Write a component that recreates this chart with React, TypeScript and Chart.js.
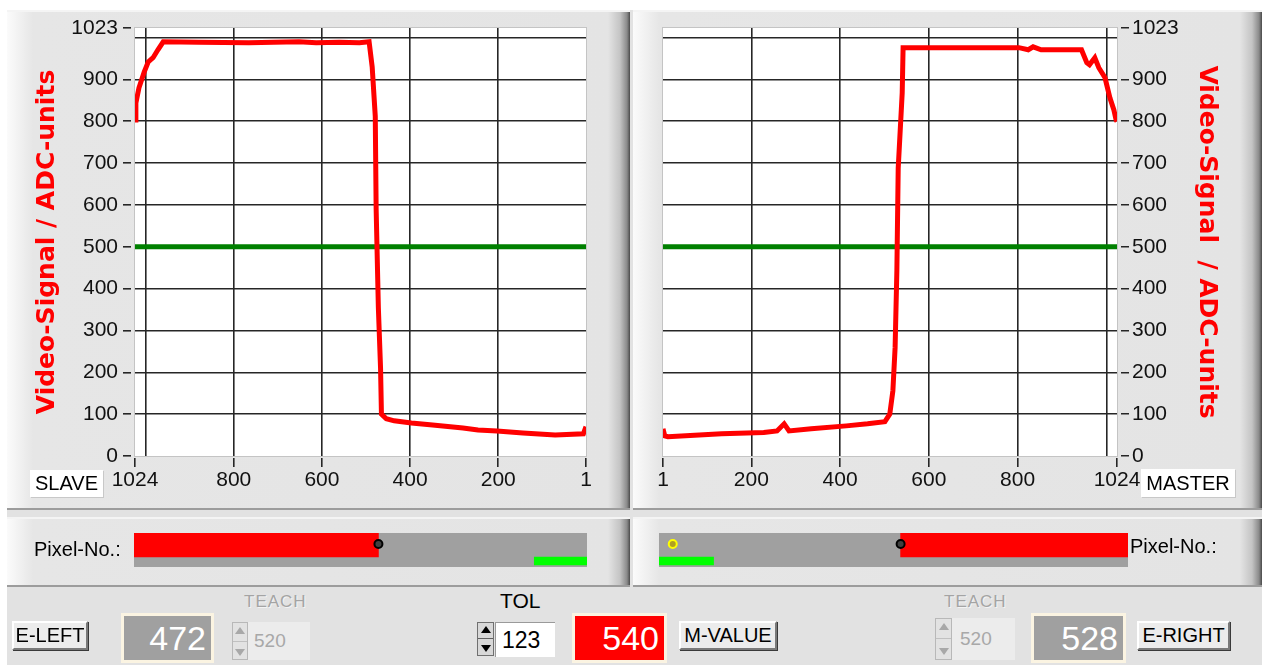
import React, { useEffect, useRef } from 'react';
import { Chart, registerables } from 'chart.js';

Chart.register(...registerables);

// ---------------- data ----------------
const slavePixels = [1024, 1022, 1015, 1003, 994, 983, 972, 960, 880, 766, 652, 613, 561, 515, 493, 486, 479, 477, 472, 467, 465, 454, 436, 397, 349, 280, 246, 203, 144, 71, 7, 1];
const slaveValues = [803, 844, 880, 918, 942, 952, 971, 990, 989, 988, 990, 988, 989, 988, 990, 930, 812, 590, 355, 209, 100, 89, 84, 79, 74, 67, 62, 60, 55, 50, 53, 70];

const masterPixels = [1, 5, 12, 133, 228, 258, 274, 285, 335, 414, 462, 501, 512, 519, 524, 528, 531, 540, 542, 803, 824, 835, 853, 944, 956, 962, 974, 983, 997, 1008, 1017, 1022, 1024];
const masterValues = [65, 48, 46, 53, 56, 60, 77, 60, 65, 72, 77, 82, 100, 156, 259, 444, 688, 868, 976, 976, 971, 978, 971, 971, 940, 935, 952, 928, 904, 856, 827, 803, 800];

const thresholdValue = 500;
const pixelMin = 1;
const pixelMax = 1024;
const adcMax = 1023;

const yTickValues = [0, 100, 200, 300, 400, 500, 600, 700, 800, 900, 1000, 1023];
const yLabelValues = [0, 100, 200, 300, 400, 500, 600, 700, 800, 900, 1023];
const yGridValues = [100, 200, 300, 400, 500, 600, 700, 800, 900, 1000];
const xTickValues = [1, 200, 400, 600, 800, 1000, 1024];
const xLabelValues = [1, 200, 400, 600, 800, 1024];
const xGridValues = [200, 400, 600, 800, 1000];

const slaveEdgeBar = [472, 1024];
const masterEdgeBar = [528, 1024];
const teachWindow = [1, 120];
const slaveEdge = 472;
const masterEdge = 528;
const masterTeachMarker = 31;

const eLeftValue = '472';
const eRightValue = '528';
const mValue = '540';
const tolValue = '123';
const teachLeftValue = '520';
const teachRightValue = '520';

// ---------------- helpers ----------------
const FONT = '"Liberation Sans", Arial, sans-serif';
const tickFont = { family: FONT, size: 21 };

const plotBg = {
  id: 'plotBg',
  beforeDraw(chart: any, _args: any, opts: any) {
    const { ctx, chartArea: a } = chart;
    if (!a) return;
    ctx.save();
    ctx.fillStyle = opts.color || '#fff';
    ctx.fillRect(a.left, a.top, a.right - a.left, a.bottom - a.top);
    if (opts.border) {
      ctx.strokeStyle = opts.border;
      ctx.lineWidth = 1;
      ctx.strokeRect(a.left - 0.5, a.top - 0.5, a.right - a.left + 1, a.bottom - a.top + 1);
    }
    ctx.restore();
  },
};

function ChartCanvas({ left, top, width, height, build }: any) {
  const ref = useRef<HTMLCanvasElement | null>(null);
  useEffect(() => {
    if (!ref.current) return;
    const chart = new Chart(ref.current, build());
    return () => chart.destroy();
  }, []);
  return (
    <canvas
      ref={ref}
      width={width}
      height={height}
      style={{ position: 'absolute', left, top, width, height, display: 'block' }}
    />
  );
}

function signalConfig(side: 'left' | 'right'): any {
  const isLeft = side === 'left';
  const pixels = isLeft ? slavePixels : masterPixels;
  const values = isLeft ? slaveValues : masterValues;
  const title = isLeft ? 'Video-Signal / ADC-units' : 'Video-Signal  / ADC-units';
  return {
    type: 'line',
    data: {
      datasets: [
        {
          data: pixels.map((p, i) => ({ x: p, y: values[i] })),
          borderColor: '#ff0000',
          borderWidth: 5,
          pointRadius: 0,
          tension: 0,
          order: 0,
        },
        {
          data: [
            { x: pixelMin, y: thresholdValue },
            { x: pixelMax, y: thresholdValue },
          ],
          borderColor: '#008000',
          borderWidth: 5,
          pointRadius: 0,
          order: 1,
        },
      ],
    },
    options: {
      animation: false,
      responsive: false,
      maintainAspectRatio: false,
      layout: {
        autoPadding: false,
        padding: isLeft
          ? { left: 20, right: 42, top: 18, bottom: 0 }
          : { left: 30, right: 36, top: 18, bottom: 0 },
      },
      plugins: {
        legend: { display: false },
        tooltip: { enabled: false },
        plotBg: { color: '#ffffff', border: '#c4c4c4' },
      },
      scales: {
        x: {
          type: 'linear',
          min: pixelMin,
          max: pixelMax,
          reverse: isLeft,
          afterBuildTicks: (s: any) => {
            s.ticks = xTickValues.map((v) => ({ value: v }));
          },
          afterFit: (s: any) => {
            s.height = 54;
          },
          ticks: {
            autoSkip: false,
            maxRotation: 0,
            color: '#111',
            font: tickFont,
            padding: 1,
            callback: (v: number) => (xLabelValues.includes(v) ? String(v) : ''),
          },
          grid: {
            color: (c: any) => (c.tick && xGridValues.includes(c.tick.value) ? '#262626' : 'rgba(0,0,0,0)'),
            lineWidth: 1.6,
            tickColor: (c: any) => (c.tick && xLabelValues.includes(c.tick.value) ? '#262626' : 'rgba(0,0,0,0)'),
            tickLength: 11,
            tickWidth: 1.6,
            tickBorderDash: [0, 2, 9, 100],
          },
          border: { display: false },
        },
        y: {
          type: 'linear',
          position: side,
          min: 0,
          max: adcMax,
          afterBuildTicks: (s: any) => {
            s.ticks = yTickValues.map((v) => ({ value: v }));
          },
          afterFit: (s: any) => {
            s.width = isLeft ? 107 : 108;
          },
          ticks: {
            autoSkip: false,
            color: '#111',
            font: tickFont,
            padding: isLeft ? 5 : 2,
            callback: (v: number) => (yLabelValues.includes(v) ? String(v) : ''),
          },
          grid: {
            color: (c: any) => (c.tick && yGridValues.includes(c.tick.value) ? '#262626' : 'rgba(0,0,0,0)'),
            lineWidth: 1.6,
            tickColor: (c: any) => (c.tick && yLabelValues.includes(c.tick.value) ? '#262626' : 'rgba(0,0,0,0)'),
            tickLength: isLeft ? 12 : 13,
            tickWidth: 1.6,
            tickBorderDash: isLeft ? [8, 100] : [0, 4, 8, 100],
          },
          border: { display: false },
          title: {
            display: true,
            text: title,
            color: '#ff0000',
            font: { family: '"DejaVu Sans", sans-serif', size: 25, weight: 'bold' },
            padding: { top: 4, bottom: 0 },
          },
        },
      },
    },
    plugins: [plotBg],
  };
}

function pixelBarConfig(side: 'left' | 'right'): any {
  const isLeft = side === 'left';
  const edgeBar = isLeft ? slaveEdgeBar : masterEdgeBar;
  const edge = isLeft ? slaveEdge : masterEdge;
  const datasets: any[] = [
    {
      type: 'scatter',
      indexAxis: 'x',
      data: [{ x: edge, y: 23 }],
      xAxisID: 'x',
      yAxisID: 'yRow',
      pointRadius: 4,
      pointBackgroundColor: '#404040',
      pointBorderColor: '#000000',
      pointBorderWidth: 2,
      clip: false,
      order: 0,
    },
    {
      type: 'bar',
      indexAxis: 'y',
      grouped: false,
      data: [{ x: edgeBar, y: 22 }],
      xAxisID: 'x',
      yAxisID: 'yRow',
      backgroundColor: '#ff0000',
      barThickness: 24,
      borderWidth: 0,
      clip: false,
      order: 2,
    },
    {
      type: 'bar',
      indexAxis: 'y',
      grouped: false,
      data: [{ x: teachWindow, y: 6 }],
      xAxisID: 'x',
      yAxisID: 'yTeach',
      backgroundColor: '#00ff00',
      barThickness: 8,
      borderWidth: 0,
      clip: false,
      order: 2,
    },
  ];
  if (!isLeft) {
    datasets.push({
      type: 'scatter',
      indexAxis: 'x',
      data: [{ x: masterTeachMarker, y: 23 }],
      xAxisID: 'x',
      yAxisID: 'yRow',
      pointRadius: 4,
      pointBackgroundColor: '#b0a020',
      pointBorderColor: '#ffff00',
      pointBorderWidth: 2,
      clip: false,
      order: 0,
    });
  }
  return {
    type: 'bar',
    data: { datasets },
    options: {
      animation: false,
      responsive: false,
      maintainAspectRatio: false,
      indexAxis: 'y',
      layout: { padding: 0, autoPadding: false },
      plugins: {
        legend: { display: false },
        tooltip: { enabled: false },
        plotBg: { color: '#a0a0a0' },
      },
      scales: {
        x: {
          type: 'linear',
          min: pixelMin,
          max: pixelMax,
          reverse: isLeft,
          display: false,
          offset: false,
          grid: { offset: false },
        },
        yRow: {
          type: 'linear',
          axis: 'y',
          min: 0,
          max: 34,
          display: false,
          offset: false,
          grid: { offset: false },
        },
        yTeach: {
          type: 'linear',
          axis: 'y',
          min: 0,
          max: 34,
          display: false,
          offset: false,
          grid: { offset: false },
        },
      },
    },
    plugins: [plotBg],
  };
}

// ---------------- UI pieces ----------------
const abs = (left: number, top: number, width: number, height: number): any => ({
  position: 'absolute',
  left,
  top,
  width,
  height,
  boxSizing: 'border-box',
});

function Panel({ left, top, width, height }: any) {
  return (
    <div
      style={{
        ...abs(left, top, width, height),
        background:
          'linear-gradient(to right, #fbfbfb 0px, #e6e6e6 26px, #e4e4e4 calc(100% - 22px), #c4c4c4 calc(100% - 10px), #8a8a8a calc(100% - 3px), #4a4a4a 100%)',
        borderTop: '2px solid #f4f4f4',
        borderBottom: '2px solid #9c9c9c',
      }}
    />
  );
}

function Button({ left, top, width, height, text }: any) {
  return (
    <div
      style={{
        ...abs(left, top, width, height),
        background: '#ececec',
        borderTop: '2px solid #ffffff',
        borderLeft: '2px solid #ffffff',
        borderRight: '2px solid #7a7a7a',
        borderBottom: '2px solid #7a7a7a',
        boxShadow: '1px 1px 0 #3a3a3a',
        font: `20px ${FONT}`,
        color: '#000',
        display: 'flex',
        alignItems: 'center',
        justifyContent: 'center',
      }}
    >
      {text}
    </div>
  );
}

function Display({ left, top, width, height, text, bg }: any) {
  return (
    <div
      style={{
        ...abs(left, top, width, height),
        background: bg,
        border: '3px solid #fbf4e2',
        color: '#ffffff',
        font: `34px ${FONT}`,
        display: 'flex',
        alignItems: 'center',
        justifyContent: 'flex-end',
        paddingRight: 5,
      }}
    >
      {text}
    </div>
  );
}

function Spinner({ left, top, width, height, disabled }: any) {
  const c = disabled ? '#a8a8a8' : '#000';
  const tri = (up: boolean): any => ({
    width: 0,
    height: 0,
    borderLeft: '5px solid transparent',
    borderRight: '5px solid transparent',
    [up ? 'borderBottom' : 'borderTop']: `7px solid ${c}`,
  });
  return (
    <div
      style={{
        ...abs(left, top, width, height),
        background: disabled ? '#e2e2e2' : '#d8d8d8',
        border: `1px solid ${disabled ? '#b8b8b8' : '#707070'}`,
        display: 'flex',
        flexDirection: 'column',
        alignItems: 'center',
        justifyContent: 'space-around',
      }}
    >
      <div style={tri(true)} />
      <div style={{ width: '100%', height: 1, background: disabled ? '#c0c0c0' : '#606060' }} />
      <div style={tri(false)} />
    </div>
  );
}

function Label({ left, top, text, size, color, extra }: any) {
  return (
    <div
      style={{
        position: 'absolute',
        left,
        top,
        font: `${size}px ${FONT}`,
        color: color || '#000',
        whiteSpace: 'nowrap',
        ...(extra || {}),
      }}
    >
      {text}
    </div>
  );
}

export default function App() {
  return (
    <div
      style={{
        position: 'fixed',
        left: 0,
        top: 0,
        width: 1267,
        height: 665,
        background: '#ffffff',
        overflow: 'hidden',
        fontFamily: FONT,
      }}
    >
      {/* window background */}
      <div style={{ ...abs(7, 10, 1255, 655), background: '#e2e2e2' }} />

      {/* chart panels */}
      <Panel left={7} top={10} width={623} height={500} />
      <Panel left={633} top={10} width={629} height={500} />
      <Panel left={7} top={517} width={623} height={70} />
      <Panel left={633} top={517} width={629} height={70} />

      <ChartCanvas left={8} top={10} width={620} height={500} build={() => signalConfig('left')} />
      <ChartCanvas left={633} top={10} width={628} height={500} build={() => signalConfig('right')} />

      {/* SLAVE / MASTER tags */}
      <div
        style={{
          ...abs(30, 470, 73, 27),
          background: '#ffffff',
          font: `20px ${FONT}`,
          display: 'flex',
          alignItems: 'center',
          justifyContent: 'center',
          boxShadow: '1px 1px 0 #c8c8c8',
        }}
      >
        SLAVE
      </div>
      <div
        style={{
          ...abs(1141, 469, 94, 28),
          background: '#ffffff',
          font: `20px ${FONT}`,
          display: 'flex',
          alignItems: 'center',
          justifyContent: 'center',
          boxShadow: '1px 1px 0 #c8c8c8',
        }}
      >
        MASTER
      </div>

      {/* pixel bars */}
      <Label left={34} top={538} text="Pixel-No.:" size={20} />
      <ChartCanvas left={134} top={533} width={453} height={34} build={() => pixelBarConfig('left')} />
      <ChartCanvas left={659} top={533} width={469} height={34} build={() => pixelBarConfig('right')} />
      <Label left={1130} top={535} text="Pixel-No.:" size={20} />

      {/* bottom controls */}
      <Button left={12} top={621} width={76} height={29} text="E-LEFT" />
      <Display left={121} top={613} width={93} height={50} text={eLeftValue} bg="#a0a0a0" />
      <Label
        left={244}
        top={592}
        text="TEACH"
        size={17}
        color="#a4a4a4"
        extra={{ letterSpacing: 1, textShadow: '1px 1px 0 #f4f4f4' }}
      />
      <Spinner left={232} top={622} width={16} height={38} disabled />
      <div
        style={{
          ...abs(248, 622, 62, 38),
          background: '#ececec',
          color: '#a8a8a8',
          font: `19px ${FONT}`,
          display: 'flex',
          alignItems: 'center',
          paddingLeft: 6,
        }}
      >
        {teachLeftValue}
      </div>

      <Label left={500} top={589} text="TOL" size={21} />
      <Spinner left={477} top={622} width={17} height={34} />
      <div
        style={{
          ...abs(495, 622, 60, 35),
          background: '#ffffff',
          borderTop: '1px solid #9a9a9a',
          borderLeft: '1px solid #9a9a9a',
          font: `23px ${FONT}`,
          display: 'flex',
          alignItems: 'center',
          paddingLeft: 6,
        }}
      >
        {tolValue}
      </div>

      <Display left={572} top={613} width={95} height={50} text={mValue} bg="#ff0000" />
      <Button left={679} top={621} width={98} height={29} text="M-VALUE" />

      <Label
        left={944}
        top={592}
        text="TEACH"
        size={17}
        color="#a4a4a4"
        extra={{ letterSpacing: 1, textShadow: '1px 1px 0 #f4f4f4' }}
      />
      <Spinner left={935} top={618} width={17} height={42} disabled />
      <div
        style={{
          ...abs(952, 618, 63, 42),
          background: '#ececec',
          color: '#a8a8a8',
          font: `19px ${FONT}`,
          display: 'flex',
          alignItems: 'center',
          paddingLeft: 8,
        }}
      >
        {teachRightValue}
      </div>

      <Display left={1031} top={613} width={95} height={50} text={eRightValue} bg="#a0a0a0" />
      <Button left={1137} top={621} width={93} height={29} text="E-RIGHT" />
    </div>
  );
}
